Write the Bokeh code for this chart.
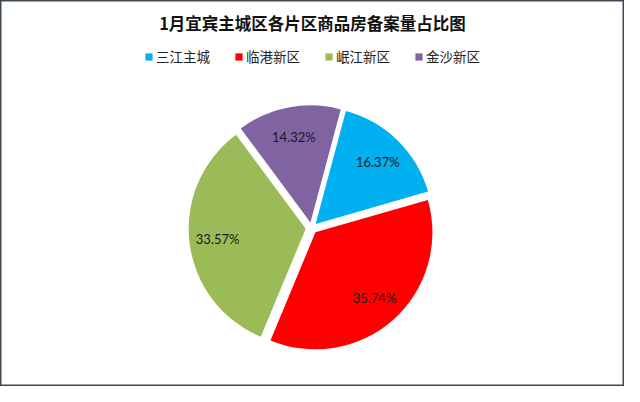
import math
from bokeh.plotting import figure
from bokeh.models import ColumnDataSource, Range1d, Legend, LegendItem, Label
from bokeh.core.properties import value
from bokeh.embed import file_html
from bokeh.resources import INLINE

# ---- data ----
title_text = "1月宜宾主城区各片区商品房备案量占比图"
categories = ["三江主城", "临港新区", "岷江新区", "金沙新区"]
shares = [16.37, 35.74, 33.57, 14.32]
colors = ["#00B0F0", "#FF0000", "#9BBB59", "#8064A2"]

# ---- geometry (reference-pixel data space, y up) ----
W, H = 624, 386
REF_W, REF_H = 640, 402
cx, cy = 319, REF_H - 237
radius = 120
explode = 6
first_angle = 15.0   # degrees clockwise from 12 o'clock
label_r = 97

total = sum(shares)
xs, ys, starts, ends, lxs, lys, texts = [], [], [], [], [], [], []
acc = first_angle
for v in shares:
    t0 = acc
    t1 = acc + v / total * 360.0
    acc = t1
    tm = (t0 + t1) / 2
    mid = math.radians(90 - tm)
    xs.append(cx + explode * math.cos(mid))
    ys.append(cy + explode * math.sin(mid))
    starts.append(math.radians(90 - t1))
    ends.append(math.radians(90 - t0))
    lxs.append(cx + label_r * math.cos(mid))
    lys.append(cy + label_r * math.sin(mid))
    texts.append(f"{v:.2f}%")

src = ColumnDataSource(dict(x=xs, y=ys, start=starts, end=ends, color=colors,
                            cat=categories, lx=lxs, ly=lys, label=texts))

p = figure(width=W, height=H, x_range=Range1d(0, REF_W), y_range=Range1d(0, REF_H),
           output_backend="svg", toolbar_location=None, min_border=0,
           x_axis_type=None, y_axis_type=None, title=None)
p.outline_line_color = "#3d4852"
p.outline_line_width = 2
p.background_fill_color = "white"
p.border_fill_color = "white"

wr = p.wedge(x="x", y="y", radius=radius, start_angle="start", end_angle="end",
             fill_color="color", line_color=None, source=src)

p.text(x="lx", y="ly", text="label", source=src, text_align="center",
       text_baseline="middle", text_font=value("Lato"), text_font_size="13px",
       text_color="#1a1a1a")

p.add_layout(Label(x=REF_W / 2, y=REF_H - 23.5, text=title_text, text_align="center",
                   text_baseline="middle", text_font="Noto Sans CJK SC",
                   text_font_style="bold", text_font_size="16.5px", text_color="#111111"))

items = [LegendItem(label=c, renderers=[wr], index=i) for i, c in enumerate(categories)]
legend = Legend(items=items, orientation="horizontal", location=(144, 320),
                glyph_width=9, glyph_height=9, label_standoff=3, spacing=24,
                padding=0, margin=0, border_line_color=None, background_fill_alpha=0,
                label_text_font="Noto Sans CJK SC", label_text_font_size="13.5px",
                label_text_color="#222222", label_height=20)
p.add_layout(legend)

open("out.html", "w").write(file_html(p, INLINE))
